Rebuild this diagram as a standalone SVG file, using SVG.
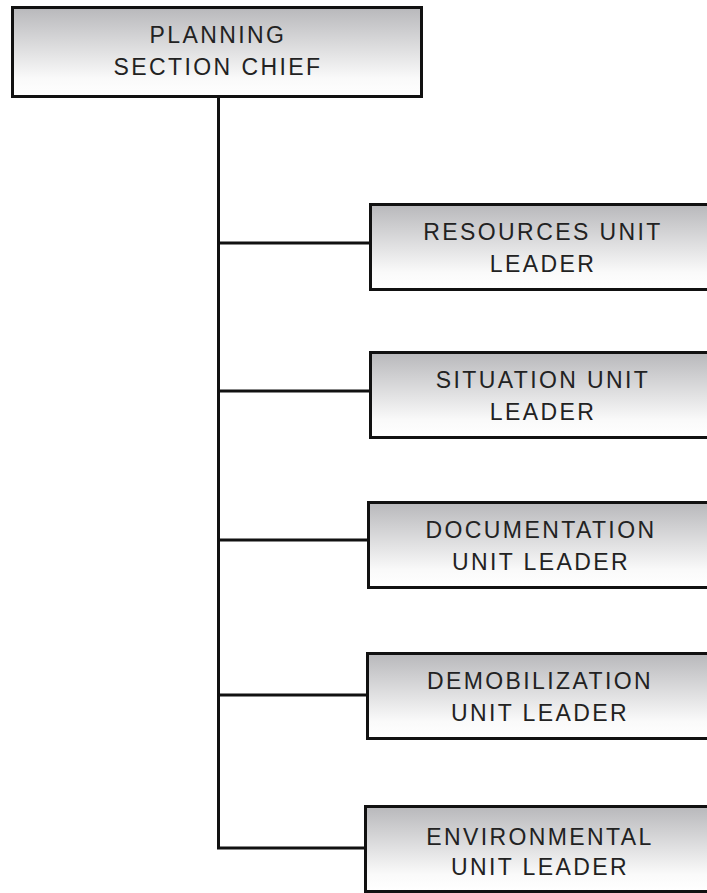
<svg xmlns="http://www.w3.org/2000/svg" width="707" height="893" viewBox="0 0 707 893">
<defs>
<linearGradient id="g" x1="0" y1="0" x2="0" y2="1">
<stop offset="0" stop-color="#b8b8bb"/>
<stop offset="0.8" stop-color="#fafafa"/>
<stop offset="1" stop-color="#ffffff"/>
</linearGradient>
</defs>
<style>
.box{fill:url(#g);stroke:#111;stroke-width:3}
.t{font-family:"Liberation Sans",Arial,sans-serif;font-size:23px;letter-spacing:2.4px;fill:#222;text-anchor:middle}
.c{stroke:#111;stroke-width:3;fill:none}
</style>
<rect width="707" height="893" fill="#fff"/>
<g id="connectors">
<path class="c" d="M218.5 97 V848 H366"/>
<path class="c" d="M218.5 243 H370"/>
<path class="c" d="M218.5 391 H370"/>
<path class="c" d="M218.5 540 H368"/>
<path class="c" d="M218.5 695 H367"/>
</g>
<g id="planning">
<rect class="box" x="12.5" y="7.5" width="409" height="89"/>
<text class="t" x="218" y="43">PLANNING</text>
<text class="t" x="218" y="75">SECTION CHIEF</text>
</g>
<g id="resources">
<rect class="box" x="370.5" y="204.5" width="360" height="85"/>
<text class="t" x="543" y="240">RESOURCES UNIT</text>
<text class="t" x="543" y="272">LEADER</text>
</g>
<g id="situation">
<rect class="box" x="370.5" y="352.5" width="360" height="85"/>
<text class="t" x="543" y="388">SITUATION UNIT</text>
<text class="t" x="543" y="420">LEADER</text>
</g>
<g id="documentation">
<rect class="box" x="368.5" y="502.5" width="360" height="85"/>
<text class="t" x="541" y="538">DOCUMENTATION</text>
<text class="t" x="541" y="570">UNIT LEADER</text>
</g>
<g id="demobilization">
<rect class="box" x="367.5" y="653.5" width="360" height="85"/>
<text class="t" x="540" y="689">DEMOBILIZATION</text>
<text class="t" x="540" y="721">UNIT LEADER</text>
</g>
<g id="environmental">
<rect class="box" x="365.5" y="806.5" width="360" height="85"/>
<text class="t" x="540" y="845">ENVIRONMENTAL</text>
<text class="t" x="540" y="875">UNIT LEADER</text>
</g>
</svg>
